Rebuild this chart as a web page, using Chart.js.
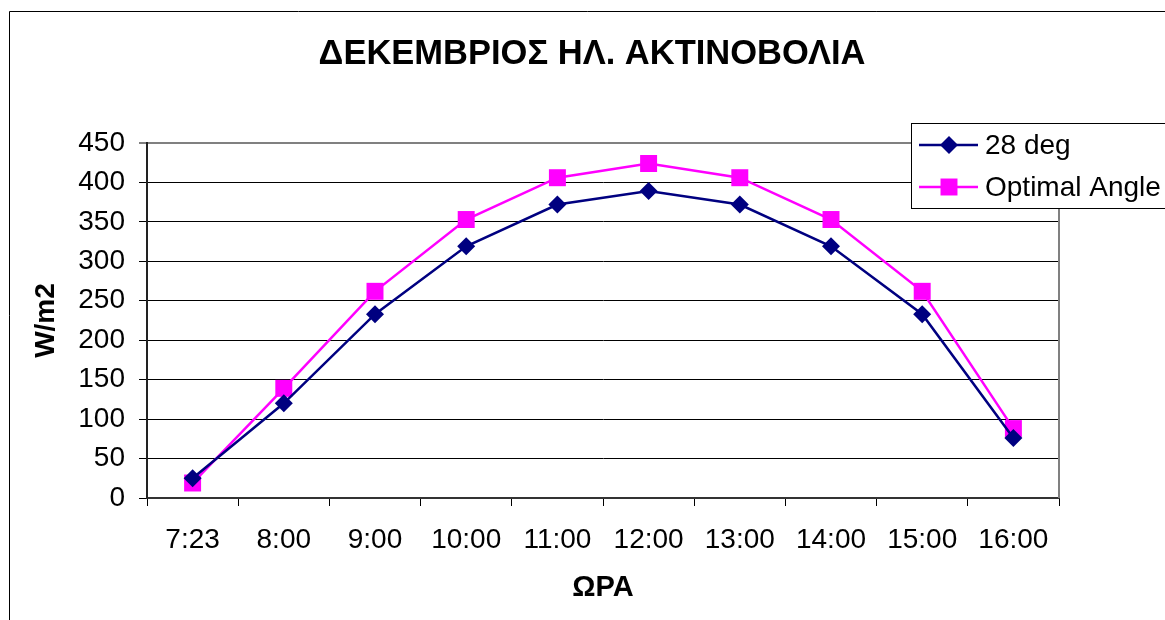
<!DOCTYPE html>
<html>
<head>
<meta charset="utf-8">
<script src="https://cdn.jsdelivr.net/npm/chart.js@4/dist/chart.umd.min.js"></script>
<style>
  html, body { margin: 0; padding: 0; background: #fff; }
  #wrap { width: 1165px; height: 620px; }
</style>
</head>
<body>
<div id="wrap"><canvas id="c" width="1165" height="620"></canvas></div>
<script>
// Hourly solar irradiance for December (W/m2)
const categories = ['7:23', '8:00', '9:00', '10:00', '11:00', '12:00', '13:00', '14:00', '15:00', '16:00'];
const deg28 = [25, 120, 233, 319, 372, 389, 372, 319, 233, 76];
const optimalAngle = [19, 139, 262, 353, 406, 424, 406, 353, 262, 88];
const seriesNames = ['28 deg', 'Optimal Angle'];
const yMin = 0, yMax = 450, yStep = 50;

const FONT = "'Liberation Sans', Arial, sans-serif";

// Page background and the outer frame of the chart object
const frame = {
  id: 'frame',
  beforeDraw(chart) {
    const ctx = chart.ctx;
    ctx.save();
    ctx.fillStyle = '#fff';
    ctx.fillRect(0, 0, chart.width, chart.height);
    ctx.strokeStyle = '#000';
    ctx.lineWidth = 1;
    ctx.beginPath();
    ctx.moveTo(9.5, chart.height);
    ctx.lineTo(9.5, 11.5);
    ctx.lineTo(chart.width, 11.5);
    ctx.stroke();
    ctx.restore();
  },
  beforeDatasetsDraw(chart) {
    // gray right-hand edge of the plot area
    const a = chart.chartArea, ctx = chart.ctx;
    ctx.save();
    ctx.strokeStyle = '#808080';
    ctx.lineWidth = 2;
    ctx.beginPath();
    ctx.moveTo(a.right, a.top);
    ctx.lineTo(a.right, a.bottom);
    ctx.stroke();
    ctx.restore();
  }
};

// Boxed legend in the upper right corner
const boxLegend = {
  id: 'boxLegend',
  afterDraw(chart) {
    const ctx = chart.ctx;
    const x0 = 911, y0 = 123, h = 85;
    ctx.save();
    ctx.fillStyle = '#fff';
    ctx.fillRect(x0, y0, chart.width - x0 + 20, h);
    ctx.strokeStyle = '#000';
    ctx.lineWidth = 1;
    ctx.strokeRect(x0 + 0.5, y0 + 0.5, chart.width - x0 + 20, h);
    const rows = [145, 187];
    const mx = 949;
    chart.data.datasets.forEach((ds, i) => {
      const y = rows[i];
      ctx.strokeStyle = ds.borderColor;
      ctx.lineWidth = ds.borderWidth;
      ctx.beginPath();
      ctx.moveTo(919, y);
      ctx.lineTo(978, y);
      ctx.stroke();
      ctx.fillStyle = ds.pointBackgroundColor;
      ctx.beginPath();
      if (ds.pointStyle === 'rectRot') {
        const r = ds.pointRadius;
        ctx.moveTo(mx - r, y); ctx.lineTo(mx, y - r); ctx.lineTo(mx + r, y); ctx.lineTo(mx, y + r);
      } else {
        const s = ds.pointRadius * Math.SQRT1_2;
        ctx.rect(mx - s, y - s, 2 * s, 2 * s);
      }
      ctx.closePath();
      ctx.fill();
      ctx.fillStyle = '#000';
      ctx.font = '28px ' + FONT;
      ctx.textAlign = 'left';
      ctx.textBaseline = 'middle';
      ctx.fillText(ds.label, 985, y + 1);
    });
    ctx.restore();
  }
};

new Chart(document.getElementById('c'), {
  type: 'line',
  data: {
    labels: categories,
    datasets: [
      {
        label: seriesNames[0],
        data: deg28,
        borderColor: '#000080',
        backgroundColor: '#000080',
        pointBackgroundColor: '#000080',
        pointBorderColor: '#000080',
        borderWidth: 2.5,
        pointStyle: 'rectRot',
        pointRadius: 9,
        pointBorderWidth: 0,
        tension: 0,
        fill: false
      },
      {
        label: seriesNames[1],
        data: optimalAngle,
        borderColor: '#FF00FF',
        backgroundColor: '#FF00FF',
        pointBackgroundColor: '#FF00FF',
        pointBorderColor: '#FF00FF',
        borderWidth: 2.5,
        pointStyle: 'rect',
        pointRadius: 12,
        pointBorderWidth: 0,
        tension: 0,
        fill: false
      }
    ]
  },
  options: {
    responsive: false,
    devicePixelRatio: 1,
    animation: false,
    layout: { padding: { left: 19, right: 0, top: 0, bottom: 0 } },
    plugins: {
      legend: { display: false },
      tooltip: { enabled: false },
      title: {
        display: true,
        text: 'ΔΕΚΕΜΒΡΙΟΣ ΗΛ. ΑΚΤΙΝΟΒΟΛΙΑ',
        color: '#000',
        font: { family: FONT, size: 34.5, weight: 'bold', lineHeight: 1.2 },
        padding: { top: 34, bottom: 67.6 }
      }
    },
    scales: {
      x: {
        offset: true,
        grid: {
          display: true,
          offset: true,
          drawOnChartArea: false,
          drawTicks: true,
          tickLength: 8,
          color: '#000',
          lineWidth: 1
        },
        border: { display: true, color: '#333', width: 2 },
        ticks: {
          color: '#000',
          font: { family: FONT, size: 28 },
          padding: 17,
          maxRotation: 0,
          autoSkip: false
        },
        title: {
          display: true,
          text: 'ΩΡΑ',
          color: '#000',
          font: { family: FONT, size: 29, weight: 'bold', lineHeight: 1.2 },
          padding: { top: 0, bottom: 15 }
        },
        afterFit(scale) { scale.height = 122; }
      },
      y: {
        min: yMin,
        max: yMax,
        grid: {
          drawTicks: true,
          tickLength: 8,
          color: (c) => (c.tick && c.tick.value === yMax ? '#808080' : '#000'),
          lineWidth: (c) => (c.tick && c.tick.value === yMax ? 2 : 1)
        },
        border: { display: true, color: '#222', width: 2 },
        ticks: {
          stepSize: yStep,
          color: '#000',
          font: { family: FONT, size: 28 },
          padding: 14
        },
        title: {
          display: true,
          text: 'W/m2',
          color: '#000',
          font: { family: FONT, size: 28, weight: 'bold', lineHeight: 1.2 },
          padding: { top: 10, bottom: 0 }
        },
        afterFit(scale) { scale.width = 128; }
      },
      // empty right-hand margin so the plot area ends where the legend begins
      yRight: {
        position: 'right',
        display: true,
        grid: { display: false, drawOnChartArea: false },
        border: { display: false },
        ticks: { display: false },
        afterFit(scale) { scale.width = 106; }
      }
    }
  },
  plugins: [frame, boxLegend]
});
</script>
</body>
</html>
